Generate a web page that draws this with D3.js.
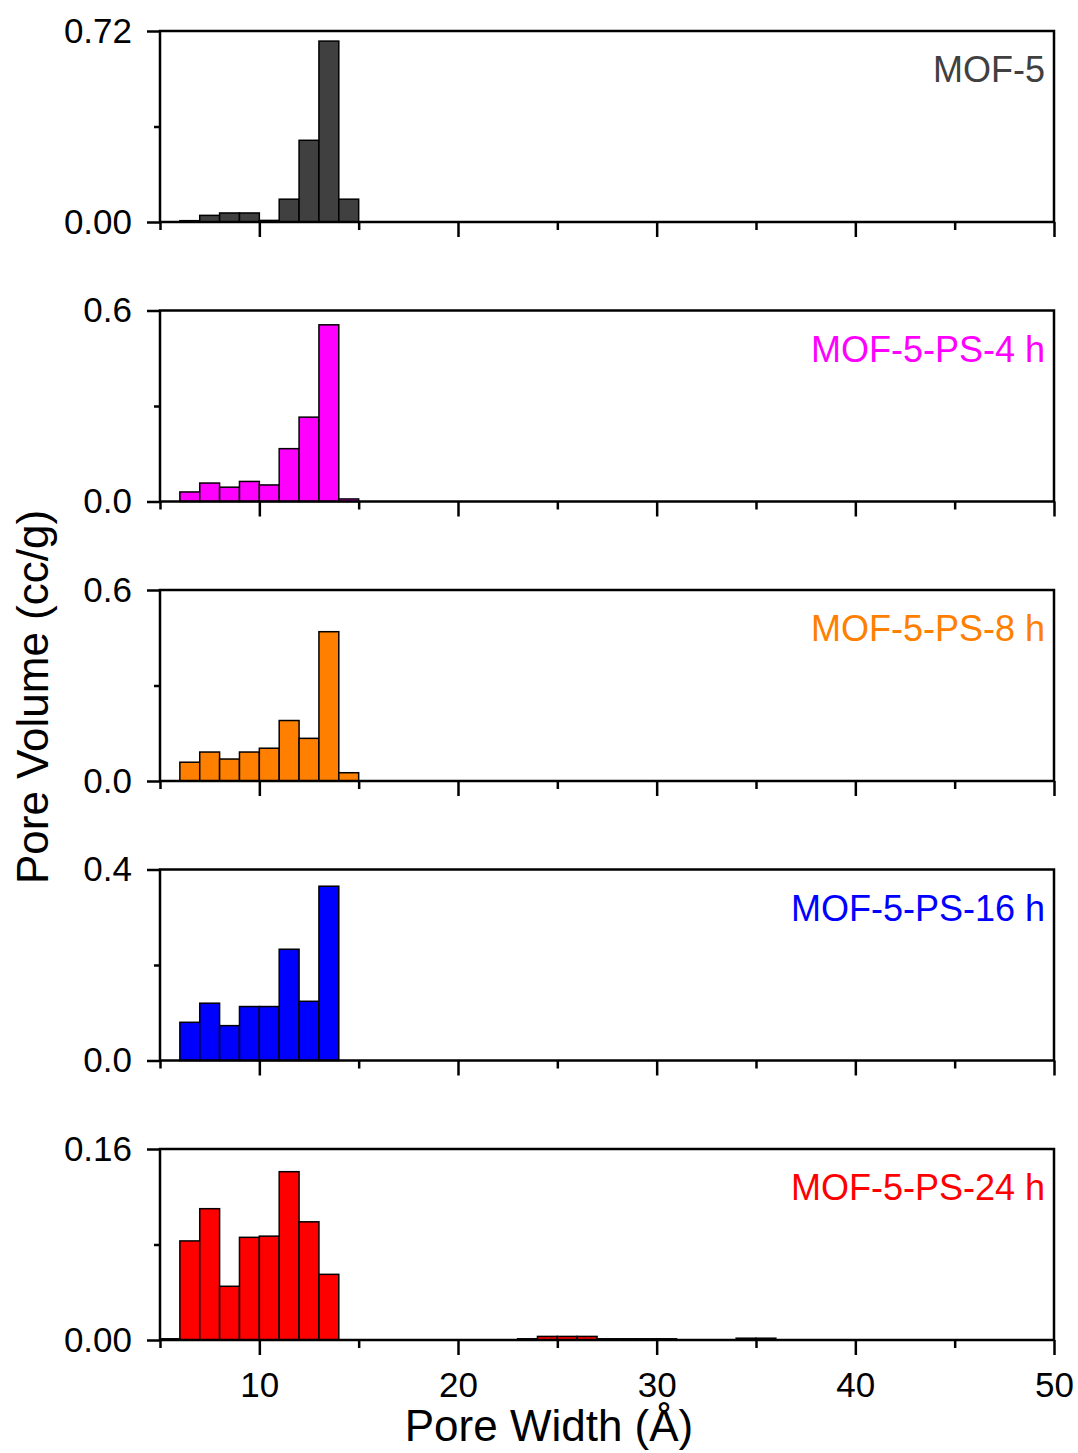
<!DOCTYPE html>
<html>
<head>
<meta charset="utf-8">
<script src="https://cdn.jsdelivr.net/npm/d3@7"></script>
<style>
  body { margin: 0; background: #fff; }
  text { font-family: "Liberation Sans", Arial, sans-serif; }
</style>
</head>
<body>
<div id="chart"></div>
<script>
// bins are 1 Å wide, value = left edge
const poreBins = [6, 7, 8, 9, 10, 11, 12, 13, 14];
const mof5 = [0.005, 0.025, 0.034, 0.034, 0.006, 0.086, 0.308, 0.682, 0.086];
const ps4h = [0.030, 0.058, 0.045, 0.063, 0.052, 0.166, 0.265, 0.555, 0.008];
const ps8h = [0.059, 0.091, 0.069, 0.091, 0.103, 0.190, 0.134, 0.469, 0.026];
const ps16h = [0.080, 0.120, 0.073, 0.113, 0.113, 0.233, 0.124, 0.365, 0];
const ps24h = [0.083, 0.110, 0.045, 0.086, 0.087, 0.141, 0.099, 0.055, 0];
// tiny bins of the 24 h sample outside the main peak
const tailBins = [5, 23, 24, 25, 26, 27, 28, 29, 30, 34, 35];
const tailValues24h = [0.001, 0.001, 0.003, 0.003, 0.003, 0.001, 0.001, 0.001, 0.001, 0.0015, 0.0015];

const sampleNames = ['MOF-5', 'MOF-5-PS-4 h', 'MOF-5-PS-8 h', 'MOF-5-PS-16 h', 'MOF-5-PS-24 h'];
const sampleColors = ['#404040', '#ff00ff', '#ff8000', '#0000ff', '#ff0000'];
const yMax = [0.72, 0.6, 0.6, 0.4, 0.16];
const yDecimals = [2, 1, 1, 1, 2];
const xMajorTicks = [10, 20, 30, 40, 50];
const xMinorTicks = [5, 15, 25, 35, 45];

const width = 1078, height = 1453;
const left = 160, right = 1054;
const panelTop = 31, panelH = 191, panelStep = 279.5;

const svg = d3.select('#chart').append('svg')
  .attr('width', width)
  .attr('height', height);

const x = d3.scaleLinear().domain([5, 50]).range([left, right]);

const seriesList = [mof5, ps4h, ps8h, ps16h, ps24h];

seriesList.forEach((vals, i) => {
  const top = panelTop + i * panelStep;
  const bottom = top + panelH;
  const y = d3.scaleLinear().domain([0, yMax[i]]).range([bottom, top]);
  const g = svg.append('g');

  let bars = poreBins.map((b, k) => ({ x0: b, v: vals[k] }));
  if (i === 4) bars = bars.concat(tailBins.map((b, k) => ({ x0: b, v: tailValues24h[k] })));
  bars = bars.filter(d => d.v > 0);

  g.selectAll('rect.bar')
    .data(bars)
    .enter()
    .append('rect')
    .attr('class', 'bar')
    .attr('x', d => x(d.x0))
    .attr('width', d => x(d.x0 + 1) - x(d.x0))
    .attr('y', d => y(d.v))
    .attr('height', d => y(0) - y(d.v))
    .attr('fill', sampleColors[i])
    .attr('stroke', '#000')
    .attr('stroke-width', 1.5);

  // frame
  g.append('rect')
    .attr('x', left).attr('y', top)
    .attr('width', right - left).attr('height', panelH)
    .attr('fill', 'none')
    .attr('stroke', '#000')
    .attr('stroke-width', 2.5);

  // y axis
  const yAxis = g.append('g')
    .attr('transform', `translate(${left},0)`)
    .call(d3.axisLeft(y).tickValues([0, yMax[i]]).tickSize(13).tickPadding(15)
      .tickFormat(d3.format(`.${yDecimals[i]}f`)));
  const yMinor = g.append('g')
    .attr('transform', `translate(${left},0)`)
    .call(d3.axisLeft(y).tickValues([yMax[i] / 2]).tickSize(6).tickFormat(''));

  // x axis
  const xAxis = g.append('g')
    .attr('transform', `translate(0,${bottom})`)
    .call(d3.axisBottom(x).tickValues(xMajorTicks).tickSize(15).tickPadding(17)
      .tickFormat(i === 4 ? d3.format('d') : ''));
  const xMinor = g.append('g')
    .attr('transform', `translate(0,${bottom})`)
    .call(d3.axisBottom(x).tickValues(xMinorTicks).tickSize(8).tickFormat(''));

  [yAxis, yMinor, xAxis, xMinor].forEach(a => {
    a.select('.domain').remove();
    a.selectAll('.tick line').attr('stroke', '#000').attr('stroke-width', 2.5);
    a.selectAll('text')
      .attr('fill', '#000')
      .style('font-size', '35px')
      .style('font-family', '"Liberation Sans", Arial, sans-serif');
  });

  g.append('text')
    .attr('x', 1045)
    .attr('y', top + 51)
    .attr('text-anchor', 'end')
    .attr('fill', sampleColors[i])
    .style('font-size', '36px')
    .text(sampleNames[i]);
});

// axis titles
svg.append('text')
  .attr('x', 549)
  .attr('y', 1441)
  .attr('text-anchor', 'middle')
  .style('font-size', '44px')
  .text('Pore Width (Å)');

svg.append('text')
  .attr('transform', 'translate(48,697) rotate(-90)')
  .attr('text-anchor', 'middle')
  .style('font-size', '44px')
  .text('Pore Volume (cc/g)');
</script>
</body>
</html>
